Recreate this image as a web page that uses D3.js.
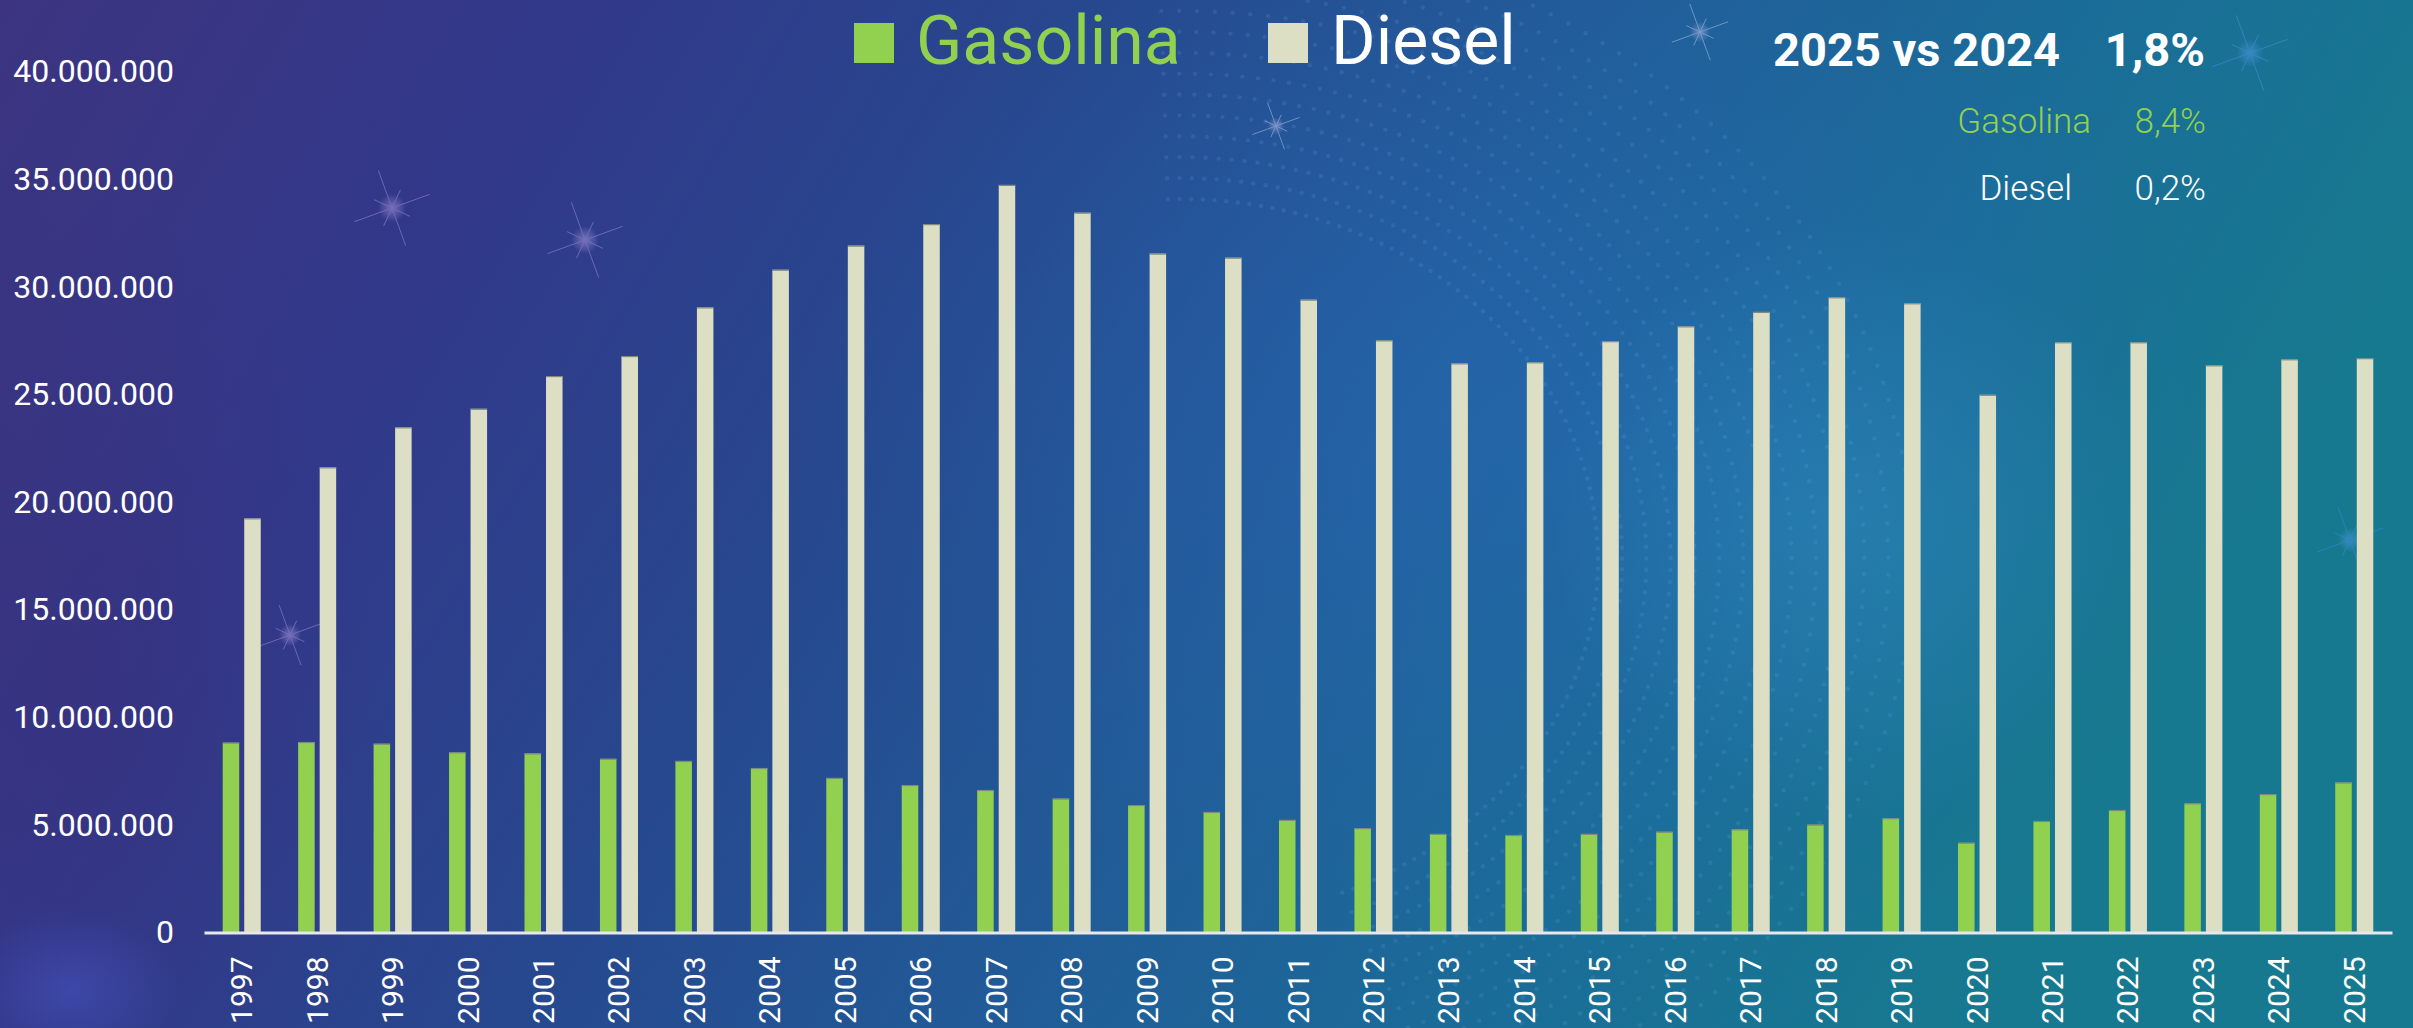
<!DOCTYPE html>
<html>
<head>
<meta charset="utf-8">
<script src="https://cdn.jsdelivr.net/npm/d3@7"></script>
<style>
  html, body { margin: 0; padding: 0; background: #2a3a88; }
  svg { display: block; font-family: Roboto, "Noto Sans", sans-serif; }
</style>
</head>
<body>
<svg id="chart" width="2413" height="1028"></svg>
<script>
const years = ["1997","1998","1999","2000","2001","2002","2003","2004","2005","2006","2007","2008","2009","2010","2011","2012","2013","2014","2015","2016","2017","2018","2019","2020","2021","2022","2023","2024","2025"];
const gasolina = [8820000,8850000,8770000,8370000,8320000,8070000,7970000,7640000,7180000,6850000,6620000,6220000,5920000,5600000,5230000,4850000,4580000,4530000,4580000,4680000,4790000,5010000,5310000,4170000,5180000,5690000,6000000,6430000,6970000];
const diesel = [19240000,21610000,23470000,24330000,25850000,26780000,29040000,30790000,31910000,32910000,34730000,33440000,31540000,31350000,29400000,27510000,26440000,26490000,27470000,28160000,28830000,29510000,29230000,24980000,27420000,27420000,26350000,26630000,26680000];
const seriesNames = ["Gasolina", "Diesel"];
const seriesColors = ["#92D050", "#DCDFC4"];
const yTicks = [0,5000000,10000000,15000000,20000000,25000000,30000000,35000000,40000000];
const headline = { label: "2025 vs 2024", value: "1,8%" };
const changes = [ { name: "Gasolina", value: "8,4%" }, { name: "Diesel", value: "0,2%" } ];

const W = 2413, H = 1028;
const svg = d3.select("#chart");
const defs = svg.append("defs");

// Background
const bg = defs.append("linearGradient").attr("id","bg").attr("x1","0").attr("y1","0").attr("x2","1").attr("y2","0.25");
[["0%","#3c3480"],["22%","#32388a"],["45%","#26498f"],["65%","#205e98"],["82%","#1a6d98"],["100%","#17798f"]]
  .forEach(([o,c]) => bg.append("stop").attr("offset",o).attr("stop-color",c));
svg.append("rect").attr("width",W).attr("height",H).attr("fill","url(#bg)");

const glow = (id, color, op) => {
  const g = defs.append("radialGradient").attr("id", id);
  g.append("stop").attr("offset","0%").attr("stop-color",color).attr("stop-opacity",op);
  g.append("stop").attr("offset","100%").attr("stop-color",color).attr("stop-opacity",0);
};
glow("g1","#2a6cc0",0.4);
glow("g2","#3a2f7a",0.5);
glow("g3","#4a5ad0",0.45);
glow("g4","#3aa0d0",0.3);
glow("gs","#e0c8ff",0.9);
glow("gb","#6ab0ff",0.9);
svg.append("ellipse").attr("cx",1500).attr("cy",420).attr("rx",700).attr("ry",520).attr("fill","url(#g1)");
svg.append("ellipse").attr("cx",80).attr("cy",700).attr("rx",300).attr("ry",500).attr("fill","url(#g2)");
svg.append("ellipse").attr("cx",70).attr("cy",990).attr("rx",110).attr("ry",80).attr("fill","url(#g3)");
svg.append("ellipse").attr("cx",1850).attr("cy",520).attr("rx",300).attr("ry",300).attr("fill","url(#g4)");

// Dotted swirl texture (decorative)
const dots = svg.append("g").attr("opacity",0.14);
for (let k = 0; k < 14; k++) {
  const r0 = 380 + k * 22;
  for (let a = -1.6; a < 1.2; a += 0.028) {
    dots.append("circle")
      .attr("cx", 1180 + r0 * Math.cos(a) * 1.1)
      .attr("cy", 560 + r0 * Math.sin(a) * 0.95)
      .attr("r", 2.2).attr("fill","#7fb0ff");
  }
}
// Soft stars (decorative)
const star = (x, y, s, c, glowId) => {
  const g = svg.append("g").attr("transform",`translate(${x},${y}) rotate(-20)`).attr("opacity",0.45);
  g.append("circle").attr("r", s*0.35).attr("fill", `url(#${glowId})`);
  [[0,1],[1,0],[0.7,0.7],[0.7,-0.7]].forEach(([dx,dy],i) => {
    const l = i < 2 ? s : s*0.5;
    g.append("line").attr("x1",-dx*l).attr("y1",-dy*l).attr("x2",dx*l).attr("y2",dy*l)
      .attr("stroke",c).attr("stroke-width",0.8);
  });
};
star(392,208,40,"#c9a8ff","gs"); star(585,240,40,"#c9a8ff","gs"); star(290,635,32,"#c9a8ff","gs");
star(1276,126,25,"#dfe8ff","gs"); star(1700,32,30,"#dfe8ff","gs"); star(2250,53,40,"#5aa0ff","gb"); star(2350,540,35,"#4a90ff","gb");

// Scales
const margin = { left: 204, right: 21, top: 71.5, bottom: 95.5 };
const x0 = d3.scaleBand().domain(years).range([margin.left, W - margin.right])
  .paddingInner(0.496).paddingOuter(0.248);
const x1 = d3.scaleBand().domain(seriesNames).range([0, x0.bandwidth()]).paddingInner(0.233);
const y = d3.scaleLinear().domain([0, 40000000]).range([H - margin.bottom, margin.top]);
const color = d3.scaleOrdinal().domain(seriesNames).range(seriesColors);

const rows = years.map((yr, i) => ({ year: yr, values: [
  { key: "Gasolina", value: gasolina[i] }, { key: "Diesel", value: diesel[i] } ] }));

// Bars
const groups = svg.append("g").selectAll("g").data(rows).join("g")
  .attr("transform", d => `translate(${x0(d.year)},0)`);
groups.selectAll("rect").data(d => d.values).join("rect")
  .attr("x", d => x1(d.key))
  .attr("y", d => y(d.value))
  .attr("width", x1.bandwidth())
  .attr("height", d => y(0) - y(d.value))
  .attr("fill", d => color(d.key));
groups.selectAll("line.top").data(d => d.values).join("line").attr("class","top")
  .attr("x1", d => x1(d.key)).attr("x2", d => x1(d.key) + x1.bandwidth())
  .attr("y1", d => y(d.value) + 0.5).attr("y2", d => y(d.value) + 0.5)
  .attr("stroke", "#7f8a80").attr("stroke-width", 1.2);

// Y axis
const fmt = v => d3.format(",")(v).replace(/,/g, ".");
const yAxis = svg.append("g").attr("transform", `translate(${margin.left - 30},0)`)
  .call(d3.axisLeft(y).tickValues(yTicks).tickFormat(fmt).tickSize(0).tickPadding(0));
yAxis.select(".domain").remove();
yAxis.selectAll("text").attr("fill", "#ffffff").attr("font-size", 32).attr("font-family","Roboto");

// X axis
const xAxis = svg.append("g").attr("transform", `translate(0,${y(0)})`)
  .call(d3.axisBottom(x0).tickSize(0).tickPadding(0));
xAxis.select(".domain").attr("stroke", "#e6e8ee").attr("stroke-width", 3);
xAxis.selectAll("text")
  .attr("fill", "#ffffff").attr("font-size", 30).attr("font-family","Roboto")
  .attr("transform", "rotate(-90)")
  .attr("text-anchor", "end")
  .attr("x", -24).attr("y", 0).attr("dy", "0.35em");

// Legend
const legend = svg.append("g");
const legItems = [
  { name: seriesNames[0], sq: 854, tx: 916, fill: seriesColors[0], text: "#92D050" },
  { name: seriesNames[1], sq: 1268, tx: 1331, fill: seriesColors[1], text: "#ffffff" }
];
legItems.forEach(it => {
  legend.append("rect").attr("x", it.sq).attr("y", 23).attr("width", 40).attr("height", 40).attr("fill", it.fill);
  legend.append("text").attr("x", it.tx).attr("y", 64).attr("font-size", 68)
    .attr("fill", it.text).attr("font-family","Roboto").text(it.name);
});

// Top-right summary
svg.append("text").attr("x", 1773).attr("y", 66).attr("font-size", 47).attr("font-weight", "bold")
  .attr("fill", "#ffffff").text(headline.label);
svg.append("text").attr("x", 2205).attr("y", 66).attr("font-size", 47).attr("font-weight", "bold")
  .attr("text-anchor", "end").attr("fill", "#ffffff").text(headline.value);
const chColors = ["#92D050", "#ffffff"];
const chNameRight = [2091, 2072];
const chY = [133, 200];
changes.forEach((c, i) => {
  svg.append("text").attr("x", chNameRight[i]).attr("y", chY[i]).attr("font-size", 35)
    .attr("text-anchor", "end").attr("fill", chColors[i]).attr("font-weight", 300).text(c.name);
  svg.append("text").attr("x", 2206).attr("y", chY[i]).attr("font-size", 35)
    .attr("text-anchor", "end").attr("fill", chColors[i]).attr("font-weight", 300).text(c.value);
});
</script>
</body>
</html>
